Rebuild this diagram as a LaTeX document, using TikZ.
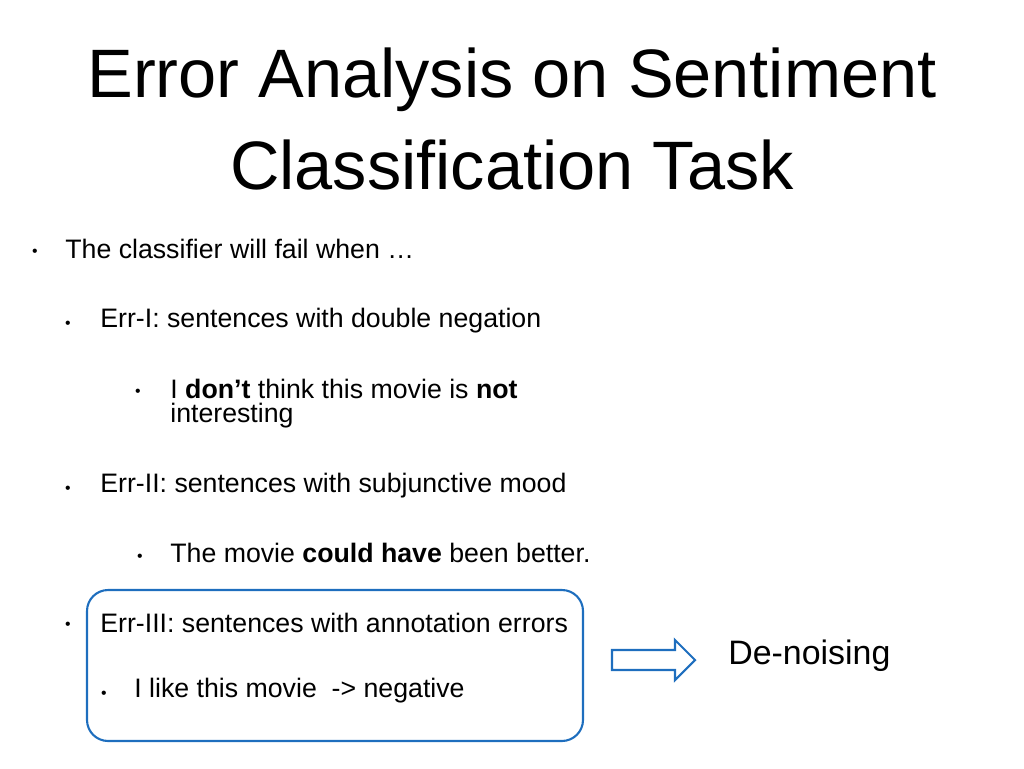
\documentclass[tikz,border=0pt]{standalone}
\usepackage{fontspec}
\setmainfont{Liberation Sans}
\usetikzlibrary{positioning}
\definecolor{boxblue}{RGB}{30,110,190}
\tikzset{
  item/.style={anchor=west, inner sep=0pt, font=\fontsize{15.2}{18}\selectfont},
  dot/.style={anchor=center, inner sep=0pt, font=\fontsize{9}{10}\selectfont},
  title/.style={anchor=center, inner sep=0pt, font=\fontsize{39}{44}\selectfont}
}
\begin{document}
\begin{tikzpicture}[x=0.02cm, y=-0.02cm]
\useasboundingbox (0,0) rectangle (1024,768);

\node[title] (t1) at (512,80) {Error Analysis on Sentiment}; % titulo 1
\node[title] (t2) at (512,165) {Classification Task}; % titulo 2

\node[dot] (b1) at (35,253) {•};
\node[item] (l1) at (65,249) {The classifier will fail when …};

\node[dot] (b2) at (68,325) {•};
\node[item] (l2) at (100,321) {Err-I: sentences with double negation};

\node[dot] (b3) at (138,393) {•};
\node[item] (l3) at (170,389) {I \textbf{don’t} think this movie is \textbf{not}};
\node[item] (l3b) at (170,416) {interesting};

\node[dot] (b4) at (68,490) {•};
\node[item] (l4) at (100,486) {Err-II: sentences with subjunctive mood};

\node[dot] (b5) at (140,558) {•};
\node[item] (l5) at (170,553) {The movie \textbf{could have} been better.};

\node[dot] (b6) at (68,626) {•};
\node[item] (l6) at (100,623) {Err-III: sentences with annotation errors};

\node[dot] (b7) at (104,695) {•};
\node[item] (l7) at (134,691) {I like this movie\ \ -> negative};

\draw[boxblue, line width=1.2pt, rounded corners=12pt] (87,590) rectangle (583,741); % caja

\draw[boxblue, line width=1.2pt, line join=miter] (612,650) -- (675,650) -- (675,640) -- (695,660)
  -- (675,680) -- (675,670) -- (612,670) -- cycle; % flecha

\node[item, font=\fontsize{19.3}{22}\selectfont] (dn) at (728,656) {De-noising};
\end{tikzpicture}
\end{document}
